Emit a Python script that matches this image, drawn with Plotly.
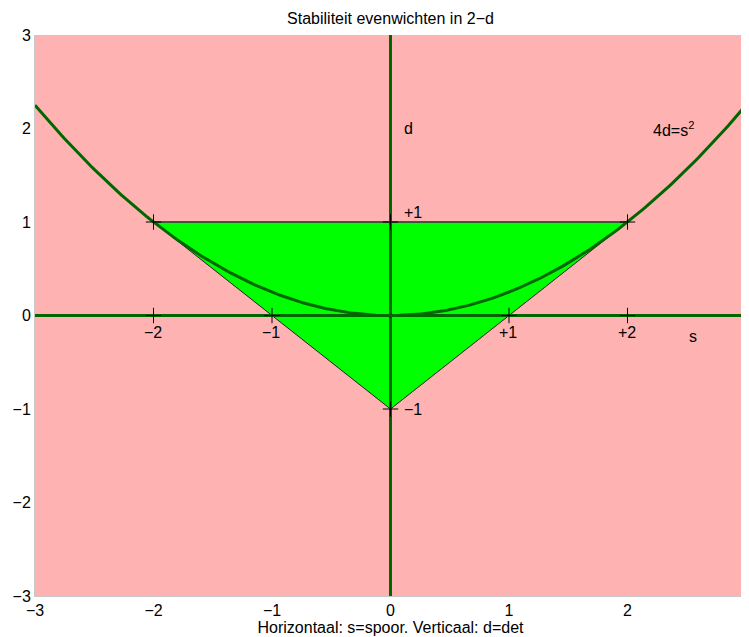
import numpy as np
import plotly.graph_objects as go

# Data
tri_s = [-2, 2, 0, -2]
tri_d = [1, 1, -1, 1]
mark_s = [-2, 0, 2, -2, -1, 1, 2, 0]
mark_d = [1, 1, 1, 0, 0, 0, 0, -1]
curve_s = np.linspace(-3, 3, 241)
curve_d = curve_s ** 2 / 4  # 4d = s^2
labels = [
    (0.1, 2.0, "d"),
    (2.2, 2.0, "4d=s<sup>2</sup>"),
    (0.1, 1.1, "+1"),
    (0.1, -1.0, "\u22121"),
    (-2.1, -0.18, "\u22122"),
    (-1.1, -0.18, "\u22121"),
    (0.9, -0.18, "+1"),
    (1.9, -0.18, "+2"),
    (2.5, -0.22, "s"),
]
ticks = [-3, -2, -1, 0, 1, 2, 3]
tick_text = ["\u22123", "\u22122", "\u22121", "0", "1", "2", "3"]

DARK = "#006600"
PINK = "#ffb2b2"
FS = 16

fig = go.Figure()
fig.add_trace(go.Scatter(x=tri_s, y=tri_d, mode="lines", fill="toself",
                         fillcolor="#00ff00", line=dict(color="#222222", width=1),
                         hoverinfo="skip"))
fig.add_trace(go.Scatter(x=[-2, 2], y=[1, 1], mode="lines",
                         line=dict(color="#444444", width=1.5), hoverinfo="skip"))
fig.add_trace(go.Scatter(x=curve_s, y=curve_d, mode="lines",
                         line=dict(color=DARK, width=3), hoverinfo="skip"))
fig.add_trace(go.Scatter(x=[-3, 3], y=[0, 0], mode="lines",
                         line=dict(color=DARK, width=3), hoverinfo="skip"))
fig.add_trace(go.Scatter(x=[0, 0], y=[-3, 3], mode="lines",
                         line=dict(color=DARK, width=3), hoverinfo="skip"))
fig.add_trace(go.Scatter(x=mark_s, y=mark_d, mode="markers",
                         marker=dict(symbol="cross-thin", size=11,
                                     line=dict(color="black", width=1)),
                         hoverinfo="skip"))

for s, d, t in labels:
    fig.add_annotation(x=s, y=d, text=t, showarrow=False, xanchor="left",
                       yanchor="middle", font=dict(size=FS, color="black"))

# page body has an 8px default margin; compensate so the plot area sits at 35..746 x 35..596
W, H = 741, 629
fig.update_layout(
    width=W, height=H,
    margin=dict(l=27, r=3, t=27, b=41, autoexpand=False),
    paper_bgcolor="white", plot_bgcolor=PINK,
    showlegend=False,
    font=dict(family="Liberation Sans, Arial, sans-serif", size=FS, color="black"),
    title=dict(text="Stabiliteit evenwichten in 2\u2212d", x=0.5, xref="paper",
               xanchor="center", y=1 - 5 / H, yref="container", yanchor="top",
               font=dict(size=FS)),
)
fig.update_xaxes(range=[-3, 3.00001], tickvals=ticks, ticktext=tick_text,
                 showgrid=False, zeroline=False, showline=True, automargin=False,
                 linecolor="#c8c8c8", linewidth=1, ticks="", ticklen=0,
                 tickfont=dict(size=FS), ticklabeloverflow="allow",
                 title=dict(text="Horizontaal: s=spoor. Verticaal: d=det",
                            standoff=0, font=dict(size=FS)))
fig.update_yaxes(range=[-3, 3], tickvals=ticks, ticktext=tick_text,
                 showgrid=False, zeroline=False, showline=True, automargin=False,
                 linecolor="#c8c8c8", linewidth=1, ticks="", ticklen=0,
                 tickfont=dict(size=FS), ticklabeloverflow="allow")

fig.write_html("out.html")
